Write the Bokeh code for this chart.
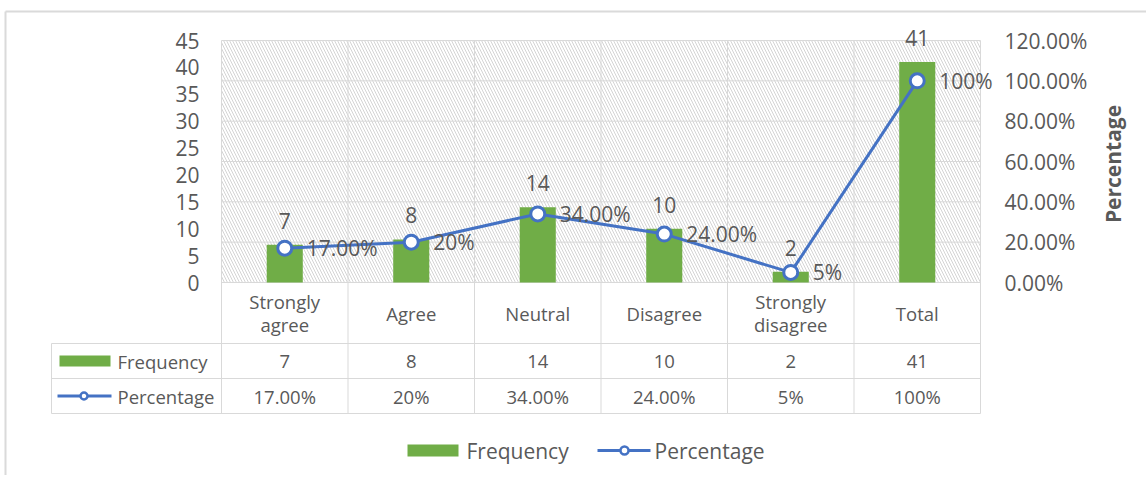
import math
from bokeh.plotting import figure
from bokeh.models import Range1d, LinearAxis, FixedTicker, NumeralTickFormatter
from bokeh.core.properties import value
from bokeh.embed import file_html
from bokeh.resources import INLINE

# ---------------- data ----------------
categories = ["Strongly\nagree", "Agree", "Neutral", "Disagree", "Strongly\ndisagree", "Total"]
frequency = [7, 8, 14, 10, 2, 41]
percentage = [0.17, 0.20, 0.34, 0.24, 0.05, 1.00]
percentage_labels = ["17.00%", "20%", "34.00%", "24.00%", "5%", "100%"]
frequency_ticks = [0, 5, 10, 15, 20, 25, 30, 35, 40, 45]
percentage_ticks = [0.0, 0.2, 0.4, 0.6, 0.8, 1.0, 1.2]
series_names = ["Frequency", "Percentage"]
axis_title = "Percentage"

# ---------------- style ----------------
GREEN = "#70AD47"
BLUE = "#4472C4"
TEXT = "#595959"
GRID = "#D9D9D9"
HATCH = "#D4D4D4"
FONT = value("Open Sans")
BIG = "21px"
SMALL = "18.5px"

# ---------------- layout geometry (page pixels) ----------------
W, H = 1146, 475
CAT_L, CAT_R = 221, 980    # plot area left/right
Y_TOP, Y_ZERO = 40, 282    # plot area top / zero line
HDR_B = 343                # bottom of category header row
ROW1_B, ROW2_B = 378, 413  # table row bottoms
TABLE_L = 51
LEG_Y = 450

n = len(categories)
cw = (CAT_R - CAT_L) / n
fmax = frequency_ticks[-1]
pmax = percentage_ticks[-1]
ppu = (Y_ZERO - Y_TOP) / fmax
ppu_p = (Y_ZERO - Y_TOP) / pmax

x_range = Range1d(-CAT_L / cw, n + (W - CAT_R) / cw)
y_range = Range1d(-(H - Y_ZERO) / ppu, fmax + Y_TOP / ppu)

xs = [i + 0.5 for i in range(n)]

p = figure(width=W, height=H, x_range=x_range, y_range=y_range,
           output_backend="svg", toolbar_location=None, title=None,
           x_axis_type=None, y_axis_type=None,
           min_border_left=0, min_border_right=0, min_border_top=0, min_border_bottom=0)
p.outline_line_color = None
p.background_fill_color = "white"
p.border_fill_color = "white"
p.extra_y_ranges = {"pct": Range1d(-(H - Y_ZERO) / ppu_p, pmax + Y_TOP / ppu_p),
                    "px": Range1d(H, 0)}
p.extra_x_ranges = {"px": Range1d(0, W)}


def style_axis(ax, standoff):
    ax.axis_line_color = None
    ax.major_tick_line_color = None
    ax.minor_tick_line_color = None
    ax.major_tick_out = 0
    ax.major_tick_in = 0
    ax.major_label_standoff = standoff
    ax.major_label_text_font = "Open Sans"
    ax.major_label_text_font_size = BIG
    ax.major_label_text_color = TEXT


left_ax = LinearAxis(ticker=FixedTicker(ticks=frequency_ticks), fixed_location=0)
style_axis(left_ax, 22)
p.add_layout(left_ax, "left")

right_ax = LinearAxis(y_range_name="pct", ticker=FixedTicker(ticks=percentage_ticks),
                      formatter=NumeralTickFormatter(format="0.00%"), fixed_location=n)
style_axis(right_ax, 24)
p.add_layout(right_ax, "right")

# outer chart border
p.segment(x0=[5, 5], y0=[11, 11], x1=[W, 5], y1=[11, H], x_range_name="px", y_range_name="px",
          line_color="#DADADA", line_width=2)

# hatched plot area
p.quad(left=[0], right=[n], bottom=[0], top=[fmax], fill_color=None, line_color=None,
       hatch_pattern="\\", hatch_color=HATCH, hatch_scale=6, hatch_weight=1)

# gridlines (secondary-axis horizontals + category verticals through the table)
p.segment(x0=[0] * len(percentage_ticks), x1=[n] * len(percentage_ticks),
          y0=percentage_ticks, y1=percentage_ticks, y_range_name="pct",
          line_color=GRID, line_width=1)
p.segment(x0=list(range(n + 1)), x1=list(range(n + 1)),
          y0=[Y_TOP] * (n + 1), y1=[ROW2_B] * (n + 1), y_range_name="px",
          line_color=GRID, line_width=1)

# bars
p.vbar(x=xs, top=frequency, bottom=0, width=0.285, fill_color=GREEN, line_color=None)
p.text(x=xs, y=frequency, text=[str(v) for v in frequency], text_align="center",
       text_baseline="middle", y_offset=-24, text_font=FONT, text_font_size=BIG, text_color=TEXT)

# line
p.line(xs, percentage, y_range_name="pct", line_color=BLUE, line_width=3)
p.scatter(xs, percentage, y_range_name="pct", marker="circle", size=14,
          fill_color="white", line_color=BLUE, line_width=3)
p.text(x=xs, y=percentage, text=percentage_labels, y_range_name="pct", x_offset=22,
       text_align="left", text_baseline="middle", text_font=FONT, text_font_size=BIG,
       text_color=TEXT)

# right axis title
p.text(x=[1112.5], y=[163.5], text=[axis_title], x_range_name="px", y_range_name="px",
       angle=math.pi / 2, text_align="center", text_baseline="middle", text_font=FONT,
       text_font_style="bold", text_font_size=BIG, text_color=TEXT)

# ---------------- data table ----------------
hdr_y = (Y_ZERO + HDR_B) / 2
p.text(x=xs, y=[hdr_y] * n, text=categories, y_range_name="px", text_align="center",
       text_baseline="middle", text_font=FONT, text_font_size=SMALL, text_color=TEXT,
       text_line_height=0.9)

row_lines = [HDR_B, ROW1_B, ROW2_B]
p.segment(x0=[TABLE_L] * 3, x1=[CAT_R] * 3, y0=row_lines, y1=row_lines,
          x_range_name="px", y_range_name="px", line_color=GRID, line_width=1)
p.segment(x0=[TABLE_L], x1=[TABLE_L], y0=[HDR_B], y1=[ROW2_B],
          x_range_name="px", y_range_name="px", line_color=GRID, line_width=1)

r1 = (HDR_B + ROW1_B) / 2
r2 = (ROW1_B + ROW2_B) / 2
p.quad(left=[59], right=[110], top=[r1 - 5.5], bottom=[r1 + 5.5], x_range_name="px",
       y_range_name="px", fill_color=GREEN, line_color=None)
p.segment(x0=[57], x1=[111], y0=[r2], y1=[r2], x_range_name="px", y_range_name="px",
          line_color=BLUE, line_width=3)
p.scatter([83.5], [r2], x_range_name="px", y_range_name="px", marker="circle", size=7,
          fill_color="white", line_color=BLUE, line_width=2.5)
p.text(x=[117, 117], y=[r1, r2], text=series_names, x_range_name="px", y_range_name="px",
       text_align="left", text_baseline="middle", text_font=FONT, text_font_size=SMALL,
       text_color=TEXT)
p.text(x=xs, y=[r1] * n, text=[str(v) for v in frequency], y_range_name="px",
       text_align="center", text_baseline="middle", text_font=FONT, text_font_size=SMALL,
       text_color=TEXT)
p.text(x=xs, y=[r2] * n, text=percentage_labels, y_range_name="px",
       text_align="center", text_baseline="middle", text_font=FONT, text_font_size=SMALL,
       text_color=TEXT)

# ---------------- legend ----------------
p.quad(left=[407], right=[458], top=[LEG_Y - 6], bottom=[LEG_Y + 6], x_range_name="px",
       y_range_name="px", fill_color=GREEN, line_color=None)
p.segment(x0=[597], x1=[650], y0=[LEG_Y], y1=[LEG_Y], x_range_name="px", y_range_name="px",
          line_color=BLUE, line_width=3)
p.scatter([624], [LEG_Y], x_range_name="px", y_range_name="px", marker="circle", size=8,
          fill_color="white", line_color=BLUE, line_width=2.5)
p.text(x=[466, 654], y=[LEG_Y, LEG_Y], text=series_names, x_range_name="px", y_range_name="px",
       text_align="left", text_baseline="middle", text_font=FONT, text_font_size=BIG,
       text_color=TEXT)

open("out.html", "w").write(file_html(p, INLINE))
